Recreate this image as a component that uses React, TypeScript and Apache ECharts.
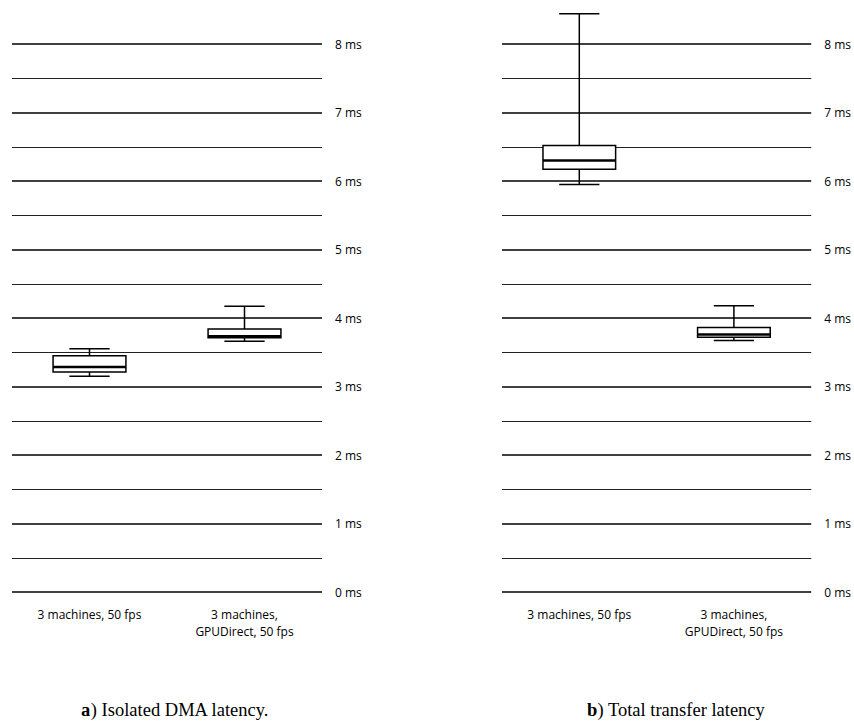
import React, { useEffect, useRef } from "react";
import * as echarts from "echarts";

// Category labels shared by both panels
const categories = ["3 machines, 50 fps", "3 machines,\nGPUDirect, 50 fps"];

// Box statistics in ms: [min, q1, median, q3, max]
const dmaLatency = [
  [3.15, 3.21, 3.285, 3.45, 3.55],
  [3.66, 3.71, 3.735, 3.84, 4.17],
];
const totalLatency = [
  [5.95, 6.17, 6.3, 6.52, 8.44],
  [3.67, 3.72, 3.76, 3.86, 4.18],
];

const captions = ["{b|a}) Isolated DMA latency.", "{b|b}) Total transfer latency"];

const LABEL_FONT = "'Open Sans', 'Noto Sans', sans-serif";

function toRows(stats: number[][]) {
  return stats.map((s, i) => [i, ...s]);
}

function renderBox(params: any, api: any) {
  const idx = api.value(0);
  const pMin = api.coord([idx, api.value(1)]);
  const pQ1 = api.coord([idx, api.value(2)]);
  const pMed = api.coord([idx, api.value(3)]);
  const pQ3 = api.coord([idx, api.value(4)]);
  const pMax = api.coord([idx, api.value(5)]);
  const band = api.size([1, 0])[0];
  const bw = band * 0.47;
  const cw = band * 0.26;
  const cx = pMed[0];
  const lineStyle = { stroke: "#000", lineWidth: 1.5, fill: null };
  return {
    type: "group",
    children: [
      { type: "line", shape: { x1: cx, y1: pQ3[1], x2: cx, y2: pMax[1] }, style: lineStyle },
      { type: "line", shape: { x1: cx, y1: pQ1[1], x2: cx, y2: pMin[1] }, style: lineStyle },
      { type: "line", shape: { x1: cx - cw / 2, y1: pMax[1], x2: cx + cw / 2, y2: pMax[1] }, style: lineStyle },
      { type: "line", shape: { x1: cx - cw / 2, y1: pMin[1], x2: cx + cw / 2, y2: pMin[1] }, style: lineStyle },
      {
        type: "rect",
        shape: { x: cx - bw / 2, y: pQ3[1], width: bw, height: pQ1[1] - pQ3[1] },
        style: { fill: "#fff", stroke: "#000", lineWidth: 1.5 },
      },
      {
        type: "line",
        shape: { x1: cx - bw / 2, y1: pMed[1], x2: cx + bw / 2, y2: pMed[1] },
        style: { stroke: "#000", lineWidth: 2.5 },
      },
    ],
  };
}

function makeYAxis(gridIndex: number) {
  return {
    type: "value",
    gridIndex,
    position: "right",
    min: 0,
    max: 8,
    interval: 1,
    axisLine: { show: false },
    axisTick: { show: false },
    axisLabel: {
      formatter: "{value} ms",
      margin: 13,
      color: "#000",
      fontSize: 12,
      fontFamily: LABEL_FONT,
    },
    splitLine: { show: true, lineStyle: { color: "#000", width: 1.5 } },
    minorTick: { show: false, splitNumber: 2 },
    minorSplitLine: { show: true, lineStyle: { color: "#222", width: 1.1 } },
  };
}

function makeXAxis(gridIndex: number) {
  return {
    type: "category",
    gridIndex,
    data: categories,
    axisLine: { show: false },
    axisTick: { show: false },
    axisLabel: {
      margin: 14,
      color: "#000",
      fontSize: 12,
      lineHeight: 17,
      fontFamily: LABEL_FONT,
      interval: 0,
    },
  };
}

export default function App() {
  const ref = useRef<HTMLDivElement>(null);

  useEffect(() => {
    if (!ref.current) return;
    const chart = echarts.init(ref.current, null, { renderer: "svg" });
    const rich = {
      b: { fontWeight: "bold", fontSize: 18.5, fontFamily: "'Liberation Serif', serif", fill: "#000" },
    };
    chart.setOption({
      animation: false,
      backgroundColor: "#fff",
      grid: [
        { left: 12, top: 44, width: 310, height: 548 },
        { left: 502, top: 44, width: 310, height: 548 },
      ],
      xAxis: [makeXAxis(0), makeXAxis(1)],
      yAxis: [makeYAxis(0), makeYAxis(1)],
      series: [
        {
          type: "custom",
          xAxisIndex: 0,
          yAxisIndex: 0,
          clip: false,
          renderItem: renderBox,
          encode: { x: 0, y: [1, 2, 3, 4, 5] },
          data: toRows(dmaLatency),
        },
        {
          type: "custom",
          xAxisIndex: 1,
          yAxisIndex: 1,
          clip: false,
          renderItem: renderBox,
          encode: { x: 0, y: [1, 2, 3, 4, 5] },
          data: toRows(totalLatency),
        },
      ],
      graphic: [
        {
          type: "text",
          x: 175,
          y: 710,
          style: {
            text: captions[0],
            align: "center",
            verticalAlign: "middle",
            fontSize: 18.5,
            fontFamily: "'Liberation Serif', serif",
            fill: "#000",
            rich,
          },
        },
        {
          type: "text",
          x: 676,
          y: 710,
          style: {
            text: captions[1],
            align: "center",
            verticalAlign: "middle",
            fontSize: 18.5,
            fontFamily: "'Liberation Serif', serif",
            fill: "#000",
            rich,
          },
        },
      ],
    });
    return () => chart.dispose();
  }, []);

  return (
    <div
      ref={ref}
      style={{ position: "fixed", left: 0, top: 0, width: 854, height: 726, background: "#fff" }}
    />
  );
}
